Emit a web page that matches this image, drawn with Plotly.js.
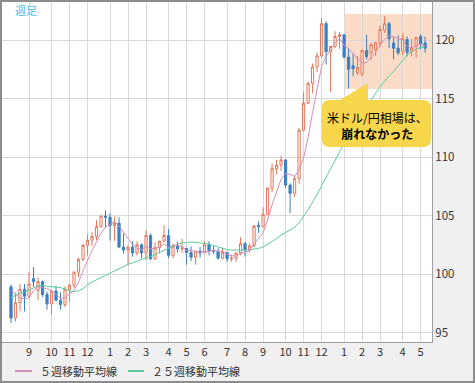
<!DOCTYPE html>
<html>
<head>
<meta charset="utf-8">
<script src="https://cdn.plot.ly/plotly-3.0.1.min.js"></script>
<style>
  html, body { margin: 0; padding: 0; background: #f0f0f0; overflow: hidden; }
  #chart { width: 475px; height: 383px; }
</style>
</head>
<body>
<div id="chart"></div>
<script>
// ---- Data (USD/JPY weekly) ----
const firstWeek = '2013-08-05';
const openP  = [98.90,96.25,97.55,98.70,98.10,99.60,98.60,99.35,98.25,97.45,98.55,97.75,97.40,98.70,99.05,100.15,101.25,102.45,102.90,103.20,104.05,104.95,104.85,104.15,104.35,102.30,102.05,102.30,101.80,102.50,101.80,103.30,101.30,102.25,102.80,103.30,101.60,102.40,102.15,102.20,101.85,101.45,101.95,101.80,102.50,102.00,101.95,101.35,101.85,101.30,101.35,101.80,102.60,102.05,102.40,104.15,104.05,105.10,107.35,109.00,109.30,109.75,107.60,106.90,108.15,112.30,114.60,116.30,117.70,118.65,121.40,119.00,119.45,120.30,120.45,118.55,117.80,117.20,117.10,119.10,118.90,119.20,119.75,120.85,121.40,119.75,119.30,119.05,120.05,119.00,119.55,120.30,119.75];
const highP  = [99.10,98.40,99.15,99.15,100.20,100.60,99.70,99.45,98.50,98.65,99.00,98.45,98.95,99.15,100.25,101.40,102.60,103.40,103.60,104.60,105.00,105.45,105.20,104.90,104.85,103.45,102.45,102.80,102.80,102.60,103.75,103.45,102.70,102.85,104.15,103.85,102.60,102.75,103.00,102.25,102.35,101.90,102.30,102.80,102.80,102.40,102.20,102.25,101.85,101.65,101.85,103.15,102.75,102.60,104.20,104.50,105.70,107.40,109.45,109.75,110.10,109.80,107.75,108.40,112.50,115.60,116.45,118.00,118.95,121.85,121.60,119.50,120.75,120.70,120.45,119.30,118.85,118.65,119.20,120.45,119.70,119.85,121.25,122.05,121.55,120.25,120.40,120.60,120.30,120.10,120.25,120.50,120.30];
const lowP   = [95.80,95.95,96.80,96.80,98.00,98.90,97.75,98.05,96.95,96.55,97.75,96.95,97.15,97.60,98.80,99.70,101.10,101.60,102.40,102.90,103.95,104.00,102.85,102.85,102.25,101.75,100.75,101.50,101.60,101.35,101.20,101.20,101.20,101.75,102.75,101.35,101.35,101.85,101.80,100.80,101.10,100.80,101.40,101.80,101.60,101.70,101.25,101.25,101.05,101.05,101.05,101.60,101.50,101.85,102.30,103.50,104.00,105.10,107.00,108.50,108.80,107.40,105.20,106.60,107.70,112.20,114.50,115.45,117.25,118.50,117.90,115.55,119.30,119.25,118.40,115.85,116.90,117.00,116.90,118.35,118.30,118.65,119.40,120.60,119.30,118.35,118.70,118.70,118.60,118.60,118.50,119.20,118.90];
const closeP = [96.25,97.55,98.70,98.10,99.15,99.35,99.35,98.25,97.45,98.55,97.75,97.40,98.70,99.05,100.15,101.25,102.45,102.90,103.20,104.05,104.95,104.85,104.15,104.35,102.30,102.05,102.30,101.80,102.50,101.80,103.30,101.30,102.25,102.80,103.30,101.60,102.40,102.15,102.20,101.85,101.45,101.95,101.80,102.50,102.00,101.95,101.35,101.85,101.30,101.35,101.80,102.60,102.05,102.40,104.10,104.05,105.10,107.35,109.00,109.30,109.75,107.60,106.90,108.15,112.30,114.60,116.30,117.70,118.65,121.40,119.00,119.45,120.30,120.45,118.55,117.50,117.55,117.65,119.10,118.60,119.60,119.75,120.90,121.40,120.10,119.30,118.90,120.15,118.95,119.30,120.20,119.70,119.30];
// closes of the 24 weeks before the first candle (needed for the moving averages)
const priorCloses = [93.40,93.60,96.00,95.30,94.50,94.20,97.50,99.60,99.50,98.00,99.00,101.60,103.20,101.00,100.50,97.50,94.10,97.90,99.20,101.20,99.20,100.50,98.30,98.90];

const monthTicks  = ['2013-09-02','2013-10-07','2013-11-04','2013-12-02','2014-01-06','2014-02-03','2014-03-03','2014-04-07','2014-05-05','2014-06-02','2014-07-07','2014-08-04','2014-09-01','2014-10-06','2014-11-03','2014-12-01','2015-01-05','2015-02-02','2015-03-02','2015-04-06','2015-05-04'];
const monthLabels = ['9','10','11','12','1','2','3','4','5','6','7','8','9','10','11','12','1','2','3','4','5'];
const yTicks = [95,100,105,110,115,120];

const ma5Name  = '５週移動平均線';
const ma25Name = '２５週移動平均線';
const calloutLine1 = '米ドル/円相場は、';
const calloutLine2 = '崩れなかった';
const cornerLabel = '週足';

// ---- Derived ----
const dates = [];
{
  const d0 = new Date(firstWeek + 'T00:00:00Z');
  for (let i = 0; i < closeP.length; i++) {
    const d = new Date(d0.getTime() + i * 7 * 86400000);
    dates.push(d.toISOString().slice(0, 10));
  }
}
const allCloses = priorCloses.concat(closeP);
function movingAvg(n) {
  const out = [];
  for (let i = 0; i < closeP.length; i++) {
    const end = i + priorCloses.length;
    let s = 0;
    for (let k = end - n + 1; k <= end; k++) s += allCloses[k];
    out.push(s / n);
  }
  return out;
}
const ma5 = movingAvg(5);
const ma25 = movingAvg(25);

// ---- Styling ----
const PINK = '#d68db6';
const GREEN = '#5ccd9c';
const FONT = '"Noto Sans CJK JP", "Noto Sans", sans-serif';

// pixel -> paper helpers (plot area: x 2..432, y 2..342)
const PL = 2, PR = 432, PT = 2, PB = 342;
const px = x => (x - PL) / (PR - PL);
const py = y => (PB - y) / (PB - PT);
const P = (x, y) => px(x) + ',' + py(y);

const bx0 = 322, bx1 = 431, by0 = 100, by1 = 147, r = 8;
const bubblePath =
  'M' + P(bx0 + r, by0) + ' L' + P(340, by0) + ' L' + P(368, 83) + ' L' + P(368, by0) +
  ' L' + P(bx1 - r, by0) + ' Q' + P(bx1, by0) + ' ' + P(bx1, by0 + r) +
  ' L' + P(bx1, by1 - r) + ' Q' + P(bx1, by1) + ' ' + P(bx1 - r, by1) +
  ' L' + P(bx0 + r, by1) + ' Q' + P(bx0, by1) + ' ' + P(bx0, by1 - r) +
  ' L' + P(bx0, by0 + r) + ' Q' + P(bx0, by0) + ' ' + P(bx0 + r, by0) + ' Z';

const traces = [
  {
    type: 'candlestick',
    x: dates, open: openP, high: highP, low: lowP, close: closeP,
    increasing: { line: { color: '#e2775a', width: 1 }, fillcolor: 'rgba(255,255,255,0.55)' },
    decreasing: { line: { color: '#3b80c4', width: 1 }, fillcolor: '#3b80c4' },
    whiskerwidth: 0,
    hoverinfo: 'none',
    showlegend: false
  },
  {
    type: 'scatter', mode: 'lines', x: dates, y: ma25, name: ma25Name,
    line: { color: GREEN, width: 1 }, hoverinfo: 'none', showlegend: false
  },
  {
    type: 'scatter', mode: 'lines', x: dates, y: ma5, name: ma5Name,
    line: { color: PINK, width: 1 }, hoverinfo: 'none', showlegend: false
  }
];

const layout = {
  width: 475, height: 383,
  margin: { l: PL, r: 475 - PR, t: PT, b: 383 - PB, pad: 0 },
  paper_bgcolor: '#f0f0f0',
  plot_bgcolor: '#ffffff',
  font: { family: FONT, size: 11, color: '#333333' },
  showlegend: false,
  xaxis: {
    type: 'date',
    range: ['2013-07-22', '2015-05-21 17:00'],
    tickmode: 'array', tickvals: monthTicks, ticktext: monthLabels,
    showgrid: true, gridcolor: '#d9d9d9', gridwidth: 1,
    showline: true, linecolor: '#a0a0a0', linewidth: 1,
    ticks: '', zeroline: false,
    rangeslider: { visible: false },
    tickfont: { family: FONT, size: 11, color: '#333333' },
    fixedrange: true
  },
  yaxis: {
    side: 'right',
    range: [94.19, 123.25],
    tickmode: 'array', tickvals: yTicks, ticktext: yTicks.map(String),
    showgrid: true, gridcolor: '#d9d9d9', gridwidth: 1,
    showline: true, linecolor: '#a0a0a0', linewidth: 1,
    ticks: '', zeroline: false,
    tickfont: { family: FONT, size: 11.5, color: '#333333' },
    fixedrange: true
  },
  shapes: [
    // highlighted period
    { type: 'rect', xref: 'paper', yref: 'paper', layer: 'between',
      x0: px(345), x1: 1, y0: py(89), y1: py(14),
      fillcolor: '#fac4a2', opacity: 0.6, line: { width: 0 } },
    // callout bubble
    { type: 'path', xref: 'paper', yref: 'paper', layer: 'above',
      path: bubblePath, fillcolor: '#f8d64c', line: { width: 0 } },
    // legend samples
    { type: 'line', xref: 'paper', yref: 'paper', x0: px(15), x1: px(32), y0: py(371), y1: py(371),
      line: { color: PINK, width: 2 } },
    { type: 'line', xref: 'paper', yref: 'paper', x0: px(128), x1: px(144), y0: py(371), y1: py(371),
      line: { color: GREEN, width: 2 } },
    // outer frame
    { type: 'rect', xref: 'paper', yref: 'paper', layer: 'above',
      x0: px(1), x1: px(474), y0: py(1), y1: py(382),
      line: { color: '#8c8c8c', width: 2 }, fillcolor: 'rgba(0,0,0,0)' }
  ],
  annotations: [
    { xref: 'paper', yref: 'paper', x: px(13), y: py(10), xanchor: 'left', yanchor: 'middle',
      text: cornerLabel, showarrow: false, font: { family: FONT, size: 11, color: '#45bdf0' } },
    { xref: 'paper', yref: 'paper', x: px(377), y: py(125), xanchor: 'center', yanchor: 'middle',
      text: calloutLine1 + '<br><b>' + calloutLine2 + '</b>', showarrow: false, align: 'center',
      font: { family: FONT, size: 12, color: '#000000' } },
    { xref: 'paper', yref: 'paper', x: px(38), y: py(371), xanchor: 'left', yanchor: 'middle',
      text: ma5Name, showarrow: false, font: { family: FONT, size: 11, color: '#333333' } },
    { xref: 'paper', yref: 'paper', x: px(150), y: py(371), xanchor: 'left', yanchor: 'middle',
      text: ma25Name, showarrow: false, font: { family: FONT, size: 11, color: '#333333' } }
  ]
};

Plotly.newPlot('chart', traces, layout, { staticPlot: true, displayModeBar: false });
</script>
</body>
</html>
